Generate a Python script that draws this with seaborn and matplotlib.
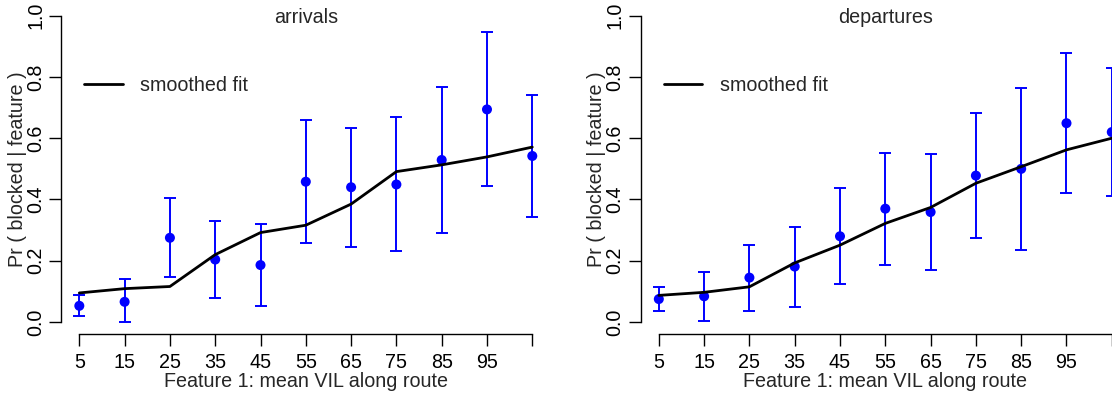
import numpy as np
import pandas as pd
import matplotlib
matplotlib.use("Agg")
import matplotlib.pyplot as plt
import seaborn as sns

# ---- data ----
vil = [5, 15, 25, 35, 45, 55, 65, 75, 85, 95, 105]
tick_labels = ["5", "15", "25", "35", "45", "55", "65", "75", "85", "95", ""]

arr_p = [0.053, 0.066, 0.275, 0.204, 0.186, 0.458, 0.440, 0.449, 0.529, 0.694, 0.542]
arr_lo = [0.020, 0.000, 0.148, 0.077, 0.051, 0.258, 0.245, 0.231, 0.292, 0.443, 0.342]
arr_hi = [0.087, 0.141, 0.404, 0.331, 0.321, 0.658, 0.634, 0.668, 0.768, 0.947, 0.741]
arr_fit = [0.095, 0.109, 0.116, 0.220, 0.292, 0.316, 0.385, 0.491, 0.513, 0.539, 0.571]

dep_p = [0.075, 0.084, 0.145, 0.181, 0.280, 0.370, 0.359, 0.478, 0.500, 0.649, 0.620]
dep_lo = [0.036, 0.003, 0.037, 0.050, 0.124, 0.186, 0.171, 0.273, 0.236, 0.421, 0.411]
dep_hi = [0.115, 0.163, 0.252, 0.311, 0.436, 0.552, 0.547, 0.682, 0.763, 0.877, 0.829]
dep_fit = [0.087, 0.097, 0.115, 0.193, 0.251, 0.322, 0.374, 0.453, 0.507, 0.562, 0.600]

titles = ["arrivals", "departures"]
xlabel = "Feature 1: mean VIL along route"
ylabel = "Pr ( blocked | feature )"
legend_label = "smoothed fit"
yticks = [0.0, 0.2, 0.4, 0.6, 0.8, 1.0]

sns.set_style("ticks")
plt.rcParams["font.family"] = ["Liberation Sans", "DejaVu Sans"]

W, H = 1112, 396
fig = plt.figure(figsize=(W / 100, H / 100), dpi=100)

FS = 14.2
panels = [
    (arr_p, arr_lo, arr_hi, arr_fit, 61.2),
    (dep_p, dep_lo, dep_hi, dep_fit, 640.7),
]
ax_w = 489.2
ax_top, ax_bot = 3.4, 334.3

for i, (p, lo, hi, fit, left_px) in enumerate(panels):
    ax = fig.add_axes([left_px / W, (H - ax_bot) / H, ax_w / W, (ax_bot - ax_top) / H])
    ax.set_facecolor("white")
    df = pd.DataFrame({"x": vil, "p": p, "lo": lo, "hi": hi, "fit": fit})
    yerr = np.array([df["p"] - df["lo"], df["hi"] - df["p"]])
    ax.errorbar(df["x"], df["p"], yerr=yerr, fmt="none", ecolor="#0000FF",
                elinewidth=1.4, capsize=4.6, capthick=1.4, zorder=2, clip_on=False)
    sns.scatterplot(data=df, x="x", y="p", ax=ax, color="#0000FF", s=52,
                    edgecolor="none", zorder=3, clip_on=False)
    sns.lineplot(data=df, x="x", y="fit", ax=ax, color="black", linewidth=2.0,
                 label=legend_label, zorder=4, clip_on=False)

    ax.set_xlim(1, 109)
    ax.set_ylim(-0.04, 1.04)
    ax.set_xticks(vil)
    ax.set_xticklabels(tick_labels, fontsize=FS)
    ax.set_yticks(yticks)
    ax.set_yticklabels([f"{v:.1f}" for v in yticks], fontsize=FS, rotation=90, va="center")
    for s in ["top", "right"]:
        ax.spines[s].set_visible(False)
    ax.spines["left"].set_bounds(0, 1)
    ax.spines["bottom"].set_bounds(5, 105)
    for s in ["left", "bottom"]:
        ax.spines[s].set_linewidth(1.0)
        ax.spines[s].set_color("black")
    ax.tick_params(axis="both", direction="out", length=8.6, width=1.0, color="black",
                   labelcolor="black")
    ax.tick_params(axis="x", pad=5)
    ax.tick_params(axis="y", pad=3)

    ax.set_xlabel(xlabel, fontsize=FS, labelpad=0)
    ax.set_ylabel(ylabel, fontsize=FS, labelpad=-0.6)
    ax.set_title(titles[i], fontsize=FS, pad=-14, y=1.0)

    ax.legend(loc="center left", bbox_to_anchor=(0.0472, 0.751), frameon=False,
              borderaxespad=0, borderpad=0, handlelength=1.95, handletextpad=0.9,
              fontsize=FS)

fig.savefig("out.png", dpi=100)
